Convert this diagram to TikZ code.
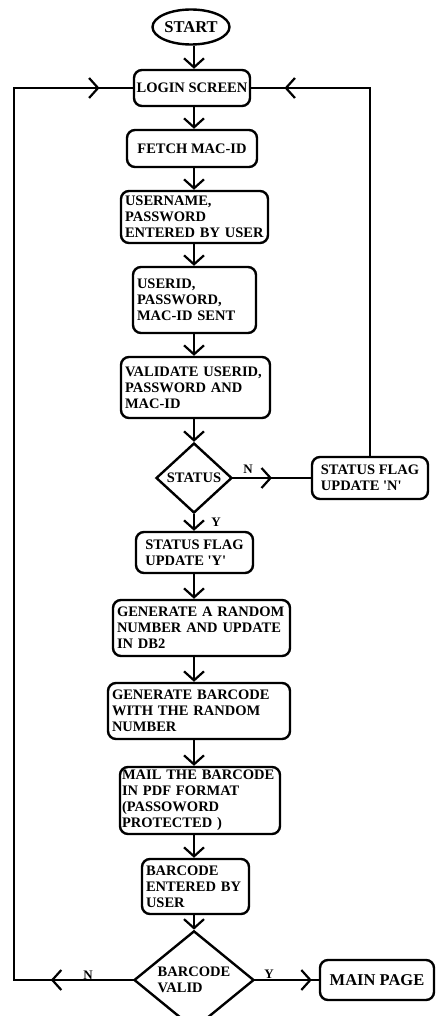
\documentclass[tikz,border=0pt]{standalone}
\usepackage{fontspec}
\setmainfont{Liberation Serif}
\usetikzlibrary{shapes.geometric,arrows.meta,decorations.markings}

\tikzset{
	barb/.tip={Straight Barb[length=9pt,width=20pt]},
	boxfont/.style={font=\bfseries\fontsize{14.5}{16}\selectfont},
	bigfont/.style={font=\bfseries\fontsize{16.5}{18}\selectfont},
	procbox/.style={draw, line width=2.4pt, rounded corners=8pt, inner xsep=4pt, inner ysep=2pt, align=left, boxfont},
	decision/.style={draw, diamond, line width=2.4pt, inner sep=0pt, align=left, boxfont},
	flowarrow/.style={line width=2.2pt, -barb},
	loopline/.style={line width=2.2pt, line cap=rect},
	markarrow/.style={line width=2.2pt, line cap=rect, postaction={decorate},
		decoration={markings, mark=at position #1 with {\arrow{barb}}}},
	lbl/.style={font=\bfseries\fontsize{13}{15}\selectfont, inner sep=0pt}
}

\begin{document}
\begin{tikzpicture}[x=1pt,y=-1pt]
	
	\useasboundingbox (0,0) rectangle (436,1016);
	
	\node[draw, ellipse, line width=2.4pt, inner sep=0pt, minimum width=77pt, minimum height=35pt, bigfont] (start) at (191,27) {START};
	\node[procbox, align=center, inner xsep=1pt, minimum width=116pt, minimum height=36pt] (login) at (192,88) {LOGIN SCREEN};
	\node[procbox, align=center, minimum width=130pt, minimum height=37pt] (fetch) at (192,148.5) {FETCH MAC-ID};
	\node[procbox, text width=139pt, minimum height=52pt] (user) at (194.5,217) {USERNAME,\\PASSWORD\\ENTERED BY USER};
	\node[procbox, text width=115pt, minimum height=66pt] (sent) at (194.5,300) {USERID,\\PASSWORD,\\MAC-ID SENT};
	\node[procbox, text width=141pt, minimum height=61pt] (check) at (195.5,387.5) {VALIDATE USERID,\\PASSWORD AND\\MAC-ID};
	\node[decision, minimum width=76pt, minimum height=70pt] (status) at (194,478) {STATUS};
	\node[procbox, minimum width=116pt, minimum height=42pt] (flagN) at (370,478) {STATUS FLAG\\UPDATE \textquotesingle{}N\textquotesingle};
	\node[procbox, minimum width=117pt, minimum height=41pt] (flagY) at (194.5,552.5) {STATUS FLAG\\UPDATE \textquotesingle{}Y\textquotesingle};
	\node[procbox, text width=169pt, minimum height=56pt] (random) at (201.5,628) {GENERATE A RANDOM\\NUMBER AND UPDATE\\IN DB2};
	\node[procbox, text width=174pt, minimum height=56pt] (barcode) at (199,711) {GENERATE BARCODE\\WITH THE RANDOM\\NUMBER};
	\node[procbox, inner xsep=2pt, text width=156pt, minimum height=67pt] (mail) at (200,800.5) {MAIL THE BARCODE\\IN PDF FORMAT\\(PASSOWORD\\PROTECTED )};
	\node[procbox, text width=99pt, minimum height=55pt] (entered) at (195.5,886.5) {BARCODE\\ENTERED BY\\USER};
	\node[decision, minimum width=120pt, minimum height=80pt] (bvalid) at (194,980) {BARCODE\\VALID};
	\node[procbox, align=center, minimum width=114pt, minimum height=40pt, bigfont] (mainpage) at (377,980) {MAIN PAGE};
	
	\coordinate (spine) at (194,0);
	\coordinate (lbot) at (14,980);
	\coordinate (ltop) at (14,88);
	\coordinate (rtop) at (flagN.north |- login.east);
	
	\draw[flowarrow] (start.south -| spine) -- (login.north -| spine);
	\draw[flowarrow] (login.south -| spine) -- (fetch.north -| spine);
	\draw[flowarrow] (fetch.south -| spine) -- (user.north -| spine);
	\draw[flowarrow] (user.south -| spine) -- (sent.north -| spine);
	\draw[flowarrow] (sent.south -| spine) -- (check.north -| spine);
	\draw[flowarrow] (check.south -| spine) -- (status.north);
	\draw[flowarrow] (status.south) -- (flagY.north -| spine);
	\draw[flowarrow] (flagY.south -| spine) -- (random.north -| spine);
	\draw[flowarrow] (random.south -| spine) -- (barcode.north -| spine);
	\draw[flowarrow] (barcode.south -| spine) -- (mail.north -| spine);
	\draw[flowarrow] (mail.south -| spine) -- (entered.north -| spine);
	\draw[flowarrow] (entered.south -| spine) -- (bvalid.north);
	
	\draw[markarrow=0.5] (status.east) -- (flagN.west);
	\draw[loopline] (flagN.north) -- (rtop);
	\draw[markarrow=0.72] (rtop) -- (login.east);
	
	\draw[markarrow=0.69] (bvalid.west) -- (lbot);
	\draw[loopline] (lbot) -- (ltop);
	\draw[markarrow=0.72] (ltop) -- (login.west);
	
	\draw[markarrow=0.89] (bvalid.east) -- (mainpage.west);
	
	\node[lbl] (statusN) at (248,469) {N};
	\node[lbl] (statusY) at (216,522) {Y};
	\node[lbl] (validN) at (88,975) {N};
	\node[lbl] (validY) at (269,974) {Y};
	
\end{tikzpicture}
\end{document}
